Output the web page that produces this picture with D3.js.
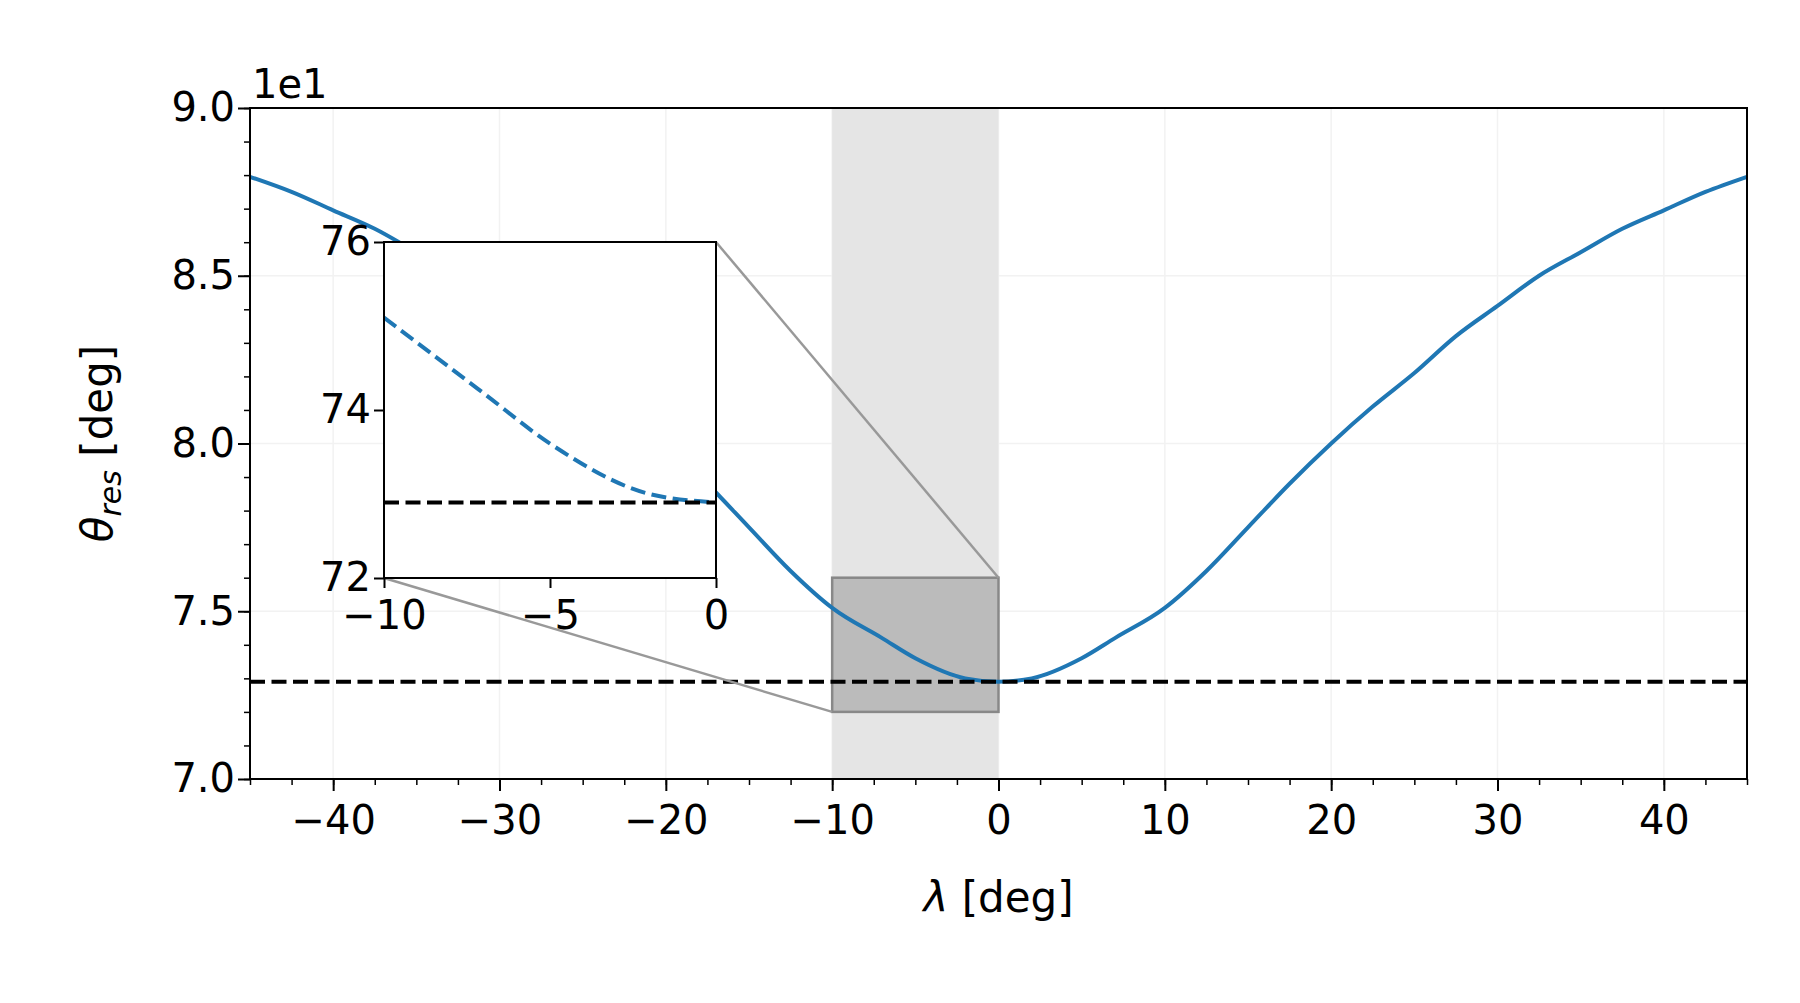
<!DOCTYPE html>
<html><head><meta charset="utf-8">
<script src="https://cdn.jsdelivr.net/npm/d3@7"></script>
<style>
body{margin:0;background:#fff}
text{font-family:"DejaVu Sans",sans-serif;fill:#000}
</style></head><body>
<svg id="c" width="1800" height="1003"></svg>
<script>
// lambda [deg] and theta_res [deg] (symmetric curve)
const lam   = [-45,-42.5,-40,-37.5,-35,-32.5,-30,-27.5,-25,-22.5,-20,-17.5,-15,-12.5,-10,-7,-5,-2,0,2,5,7,10,12.5,15,17.5,20,22.5,25,27.5,30,32.5,35,37.5,40,42.5,45];
const theta = [87.95,87.5,86.95,86.4,85.7,85.0,84.1,83.2,82.1,81.1,80.0,78.8,77.5,76.2,75.1,74.2,73.6,73.0,72.9,73.0,73.6,74.2,75.1,76.2,77.5,78.8,80.0,81.1,82.1,83.2,84.1,85.0,85.7,86.4,86.95,87.5,87.95];
const thetaMin = 72.9;
const xTicks = [-40,-30,-20,-10,0,10,20,30,40];
const yTicks = [70,75,80,85,90];
const insetXTicks = [-10,-5,0];
const insetYTicks = [72,74,76];

const svg = d3.select('#c');
const L=250, R=1747, T=108, B=779;
const x = d3.scaleLinear().domain([-45,45]).range([L,R]);
const y = d3.scaleLinear().domain([70,90]).range([B,T]);
const fs = 40;
const minus = d=>d<0?'\u2212'+(-d):d;

// grid
yTicks.forEach(v=>svg.append('line').attr('x1',L).attr('x2',R).attr('y1',y(v)).attr('y2',y(v)).attr('stroke','#f2f2f2').attr('stroke-width',1.5));
xTicks.forEach(v=>svg.append('line').attr('y1',T).attr('y2',B).attr('x1',x(v)).attr('x2',x(v)).attr('stroke','#f2f2f2').attr('stroke-width',1.5));

// shaded span
svg.append('rect').attr('x',x(-10)).attr('y',T).attr('width',x(0)-x(-10)).attr('height',B-T).attr('fill','#e5e5e5');

// zoom box
svg.append('rect').attr('x',x(-10)).attr('y',y(76)).attr('width',x(0)-x(-10)).attr('height',y(72)-y(76))
  .attr('fill','#bbbbbb').attr('stroke','#888').attr('stroke-width',2.5);

const line = d3.line().x((d,i)=>x(lam[i])).y(d=>y(d)).curve(d3.curveMonotoneX);
svg.append('path').datum(theta).attr('d',line).attr('fill','none').attr('stroke','#1f77b4').attr('stroke-width',4);
svg.append('line').attr('x1',L).attr('x2',R).attr('y1',y(thetaMin)).attr('y2',y(thetaMin))
  .attr('stroke','#000').attr('stroke-width',4).attr('stroke-dasharray','15,6.5');

// inset
const iL=384, iR=716, iT=242, iB=578;
const ix = d3.scaleLinear().domain([-10,0]).range([iL,iR]);
const iy = d3.scaleLinear().domain([72,76]).range([iB,iT]);
svg.append('line').attr('x1',iR).attr('y1',iT).attr('x2',x(0)).attr('y2',y(76)).attr('stroke','#999').attr('stroke-width',2.5);
svg.append('line').attr('x1',iL).attr('y1',iB).attr('x2',x(-10)).attr('y2',y(72)).attr('stroke','#999').attr('stroke-width',2.5);
svg.append('rect').attr('x',iL).attr('y',iT).attr('width',iR-iL).attr('height',iB-iT).attr('fill','#fff');
const sub = lam.map((l,i)=>[l,theta[i]]).filter(d=>d[0]>=-10&&d[0]<=0);
svg.append('path').datum(sub).attr('d',d3.line().x(d=>ix(d[0])).y(d=>iy(d[1])).curve(d3.curveMonotoneX))
  .attr('fill','none').attr('stroke','#1f77b4').attr('stroke-width',4).attr('stroke-dasharray','15,6.5');
svg.append('line').attr('x1',iL).attr('x2',iR).attr('y1',iy(thetaMin)).attr('y2',iy(thetaMin))
  .attr('stroke','#000').attr('stroke-width',4).attr('stroke-dasharray','15,6.5');
svg.append('rect').attr('x',iL).attr('y',iT).attr('width',iR-iL).attr('height',iB-iT).attr('fill','none').attr('stroke','#000').attr('stroke-width',2);
svg.append('g').attr('transform',`translate(0,${iB})`)
  .call(d3.axisBottom(ix).tickValues(insetXTicks).tickSize(10).tickFormat(minus))
  .call(g=>{g.select('.domain').remove();g.selectAll('line').attr('stroke-width',2);g.selectAll('text').attr('font-size',fs).attr('font-family','DejaVu Sans').attr('dy','0.95em');});
svg.append('g').attr('transform',`translate(${iL},0)`)
  .call(d3.axisLeft(iy).tickValues(insetYTicks).tickSize(10).tickFormat(d=>d))
  .call(g=>{g.select('.domain').remove();g.selectAll('line').attr('stroke-width',2);g.selectAll('text').attr('font-size',fs).attr('font-family','DejaVu Sans');});

// main axes
svg.append('rect').attr('x',L).attr('y',T).attr('width',R-L).attr('height',B-T).attr('fill','none').attr('stroke','#000').attr('stroke-width',2);
const xMinor = d3.range(-45,45.01,2.5), yMinor = d3.range(70,90.01,1);
svg.append('g').attr('transform',`translate(0,${B})`)
  .call(d3.axisBottom(x).tickValues(xMinor).tickSize(6).tickFormat(''))
  .call(g=>{g.select('.domain').remove();g.selectAll('line').attr('stroke-width',1.5);});
svg.append('g').attr('transform',`translate(${L},0)`)
  .call(d3.axisLeft(y).tickValues(yMinor).tickSize(6).tickFormat(''))
  .call(g=>{g.select('.domain').remove();g.selectAll('line').attr('stroke-width',1.5);});
svg.append('g').attr('transform',`translate(0,${B})`)
  .call(d3.axisBottom(x).tickValues(xTicks).tickSize(12).tickFormat(minus))
  .call(g=>{g.select('.domain').remove();g.selectAll('line').attr('stroke-width',2);g.selectAll('text').attr('font-size',fs).attr('font-family','DejaVu Sans').attr('dy','1em');});
svg.append('g').attr('transform',`translate(${L},0)`)
  .call(d3.axisLeft(y).tickValues(yTicks).tickSize(12).tickFormat(d=>(d/10).toFixed(1)))
  .call(g=>{g.select('.domain').remove();g.selectAll('line').attr('stroke-width',2);g.selectAll('text').attr('font-size',fs).attr('font-family','DejaVu Sans');});
svg.append('text').attr('x',L+2).attr('y',T-10).attr('font-size',fs).text('1e1');

// labels
svg.append('text').attr('x',(L+R)/2).attr('y',912).attr('text-anchor','middle').attr('font-size',fs+2)
  .html('<tspan font-style="italic">λ</tspan> [deg]');
svg.append('text').attr('transform',`translate(112,${(T+B)/2}) rotate(-90)`).attr('text-anchor','middle').attr('font-size',fs+2)
  .html('<tspan font-style="italic">θ</tspan><tspan font-style="italic" font-size="30" dy="9">res</tspan><tspan dy="-9"> [deg]</tspan>');
</script></body></html>
